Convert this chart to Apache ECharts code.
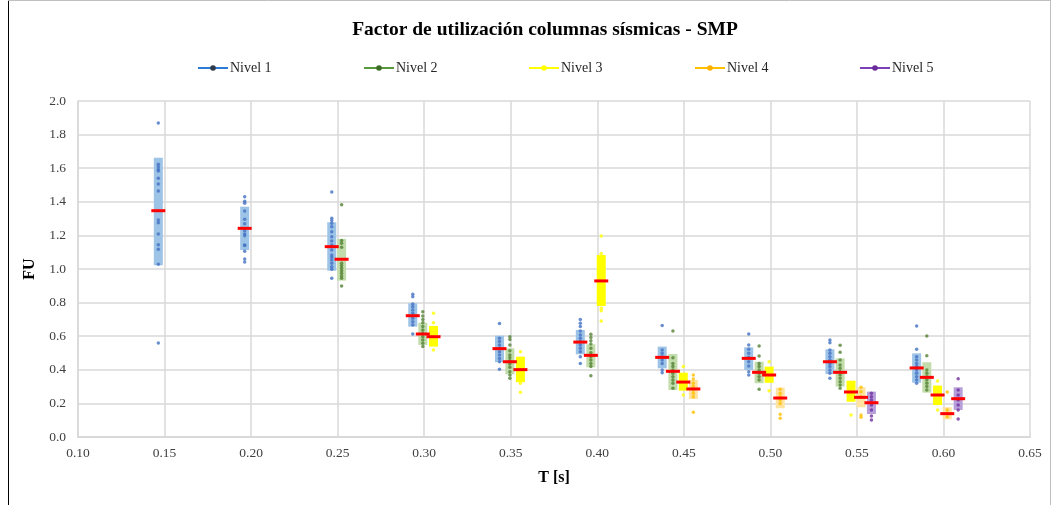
<!DOCTYPE html>
<html>
<head>
<meta charset="utf-8">
<script src="https://cdn.jsdelivr.net/npm/echarts@6/dist/echarts.min.js"></script>
<style>
  html, body { margin: 0; padding: 0; background: #fff; }
  #chart { width: 1064px; height: 505px; }
</style>
</head>
<body>
<div id="chart"></div>
<script>
// Periodo T [s] de cada modelo, por nivel; FU medio, rango (media ± desviación) y valores individuales
const xTicks = [0.10, 0.15, 0.20, 0.25, 0.30, 0.35, 0.40, 0.45, 0.50, 0.55, 0.60, 0.65];
const yTicks = [0.0, 0.2, 0.4, 0.6, 0.8, 1.0, 1.2, 1.4, 1.6, 1.8, 2.0];

const n1T    = [0.1464, 0.1963, 0.2466, 0.2934, 0.3435, 0.3902, 0.4375, 0.4875, 0.5344, 0.5845];
const n1Mean = [1.347, 1.242, 1.133, 0.722, 0.526, 0.565, 0.474, 0.468, 0.448, 0.411];
const n1Low  = [1.022, 1.113, 0.990, 0.657, 0.445, 0.492, 0.409, 0.399, 0.375, 0.323];
const n1High = [1.662, 1.371, 1.278, 0.796, 0.603, 0.637, 0.538, 0.534, 0.522, 0.498];
const n1Pts = [
  [1.869, 1.623, 1.609, 1.593, 1.583, 1.540, 1.506, 1.464, 1.292, 1.276, 1.208, 1.145, 1.117, 1.028, 0.560],
  [1.430, 1.403, 1.391, 1.345, 1.296, 1.270, 1.228, 1.208, 1.198, 1.143, 1.140, 1.105, 1.060, 1.042],
  [1.458, 1.302, 1.288, 1.272, 1.252, 1.222, 1.192, 1.167, 1.143, 1.113, 1.083, 1.070, 1.054, 1.034, 1.014, 0.998, 0.945],
  [0.849, 0.835, 0.792, 0.776, 0.756, 0.736, 0.707, 0.686, 0.667, 0.613],
  [0.675, 0.588, 0.568, 0.548, 0.528, 0.508, 0.488, 0.468, 0.448, 0.403],
  [0.700, 0.677, 0.657, 0.631, 0.607, 0.588, 0.568, 0.548, 0.528, 0.508, 0.478, 0.438],
  [0.663, 0.518, 0.498, 0.478, 0.458, 0.438, 0.399, 0.383],
  [0.613, 0.548, 0.522, 0.498, 0.474, 0.448, 0.423, 0.389, 0.369],
  [0.577, 0.561, 0.518, 0.498, 0.478, 0.458, 0.438, 0.419, 0.399, 0.379, 0.349],
  [0.661, 0.522, 0.478, 0.458, 0.438, 0.419, 0.399, 0.379, 0.359, 0.339, 0.320]
];

const n2T    = [0.2523, 0.2992, 0.3495, 0.3963, 0.4437, 0.4935, 0.5403, 0.5904];
const n2Mean = [1.058, 0.613, 0.448, 0.486, 0.391, 0.385, 0.385, 0.355];
const n2Low  = [0.931, 0.548, 0.373, 0.415, 0.280, 0.320, 0.300, 0.264];
const n2High = [1.179, 0.680, 0.528, 0.552, 0.494, 0.448, 0.468, 0.445];
const n2Pts = [
  [1.383, 1.169, 1.153, 1.129, 1.034, 1.020, 1.004, 0.990, 0.974, 0.958, 0.945, 0.899],
  [0.746, 0.720, 0.700, 0.680, 0.657, 0.637, 0.617, 0.597, 0.577, 0.558, 0.538],
  [0.597, 0.581, 0.548, 0.514, 0.488, 0.472, 0.454, 0.435, 0.415, 0.389, 0.369, 0.349],
  [0.611, 0.593, 0.573, 0.554, 0.528, 0.502, 0.478, 0.458, 0.438, 0.419, 0.365],
  [0.631, 0.472, 0.438, 0.419, 0.399, 0.379, 0.359, 0.339, 0.320, 0.290],
  [0.542, 0.482, 0.438, 0.419, 0.399, 0.379, 0.359, 0.339, 0.284],
  [0.546, 0.504, 0.458, 0.429, 0.409, 0.389, 0.369, 0.349, 0.329, 0.310, 0.290],
  [0.601, 0.484, 0.399, 0.379, 0.359, 0.339, 0.320, 0.300, 0.280]
];

const n3T    = [0.3054, 0.3556, 0.4023, 0.4497, 0.4993, 0.5466, 0.5966];
const n3Mean = [0.597, 0.401, 0.929, 0.327, 0.369, 0.268, 0.250];
const n3Low  = [0.538, 0.326, 0.780, 0.276, 0.323, 0.210, 0.190];
const n3High = [0.661, 0.478, 1.083, 0.383, 0.419, 0.335, 0.306];
const n3Pts = [
  [0.736, 0.680, 0.640, 0.600, 0.560, 0.518],
  [0.508, 0.450, 0.400, 0.350, 0.320, 0.266],
  [1.196, 1.093, 1.050, 1.000, 0.950, 0.900, 0.850, 0.820, 0.766, 0.752, 0.690],
  [0.419, 0.360, 0.330, 0.300, 0.250],
  [0.448, 0.400, 0.370, 0.340, 0.276],
  [0.320, 0.280, 0.250, 0.220, 0.131],
  [0.333, 0.290, 0.260, 0.230, 0.200, 0.161]
];

const n4T    = [0.4555, 0.5057, 0.5524, 0.6022];
const n4Mean = [0.286, 0.232, 0.236, 0.139];
const n4Low  = [0.226, 0.171, 0.177, 0.105];
const n4High = [0.339, 0.294, 0.296, 0.177];
const n4Pts = [
  [0.369, 0.345, 0.320, 0.300, 0.280, 0.260, 0.240, 0.147],
  [0.284, 0.260, 0.240, 0.220, 0.200, 0.135, 0.111],
  [0.296, 0.270, 0.240, 0.131, 0.117],
  [0.268, 0.160, 0.140, 0.120]
];

const n5T    = [0.5584, 0.6085];
const n5Mean = [0.204, 0.228];
const n5Low  = [0.137, 0.161];
const n5High = [0.270, 0.296];
const n5Pts = [
  [0.260, 0.240, 0.220, 0.190, 0.161, 0.125, 0.101],
  [0.347, 0.280, 0.250, 0.220, 0.190, 0.161, 0.107]
];

const levelNames = ['Nivel 1', 'Nivel 2', 'Nivel 3', 'Nivel 4', 'Nivel 5'];

// Estilos por nivel
const levels = [
  { name: levelNames[0], t: n1T, mean: n1Mean, low: n1Low, high: n1High, pts: n1Pts,
    dot: '#4472C4', box: '#9DC3E6', line: '#2E7BD6', mark: '#2F3A4A' },
  { name: levelNames[1], t: n2T, mean: n2Mean, low: n2Low, high: n2High, pts: n2Pts,
    dot: '#548235', box: '#C2DDAB', line: '#5B9A3C', mark: '#3E6B28' },
  { name: levelNames[2], t: n3T, mean: n3Mean, low: n3Low, high: n3High, pts: n3Pts,
    dot: '#FFFF00', box: '#FFFF00', line: '#FFFF00', mark: '#FFFF00' },
  { name: levelNames[3], t: n4T, mean: n4Mean, low: n4Low, high: n4High, pts: n4Pts,
    dot: '#FFC000', box: '#FFE3A0', line: '#FFC000', mark: '#FFB000' },
  { name: levelNames[4], t: n5T, mean: n5Mean, low: n5Low, high: n5High, pts: n5Pts,
    dot: '#7030A0', box: '#B7A0DA', line: '#7B3FB8', mark: '#6A2C9A' }
];

const serif = '"Liberation Serif", "DejaVu Serif", serif';
const BOX_W = 9, MEAN_W = 14, MEAN_H = 3;

function rangeBox(color) {
  return function (params, api) {
    const top = api.coord([api.value(0), api.value(2)]);
    const bot = api.coord([api.value(0), api.value(1)]);
    return {
      type: 'rect',
      shape: { x: top[0] - BOX_W / 2, y: top[1], width: BOX_W, height: bot[1] - top[1] },
      style: { fill: color }
    };
  };
}

function meanBar(params, api) {
  const p = api.coord([api.value(0), api.value(1)]);
  return {
    type: 'rect',
    shape: { x: p[0] - MEAN_W / 2, y: p[1] - MEAN_H / 2, width: MEAN_W, height: MEAN_H },
    style: { fill: '#FF0000' }
  };
}

const series = [];
levels.forEach(function (lv) {
  series.push({
    name: lv.name + ' rango',
    type: 'custom',
    renderItem: rangeBox(lv.box),
    data: lv.t.map(function (t, i) { return [t, lv.low[i], lv.high[i]]; }),
    encode: { x: 0, y: [1, 2] },
    z: 1,
    silent: true
  });
});
levels.forEach(function (lv) {
  const d = [];
  lv.t.forEach(function (t, i) { lv.pts[i].forEach(function (v) { d.push([t, v]); }); });
  series.push({
    name: lv.name + ' valores',
    type: 'scatter',
    data: d,
    symbol: 'circle',
    symbolSize: 3.5,
    itemStyle: { color: lv.dot },
    z: 2,
    silent: true
  });
});
levels.forEach(function (lv) {
  series.push({
    name: lv.name + ' media',
    type: 'custom',
    renderItem: meanBar,
    data: lv.t.map(function (t, i) { return [t, lv.mean[i]]; }),
    encode: { x: 0, y: 1 },
    z: 3,
    silent: true
  });
});
// Series de leyenda (línea con marcador)
levels.forEach(function (lv) {
  series.push({
    name: lv.name,
    type: 'line',
    data: [],
    symbol: 'circle',
    symbolSize: 6,
    lineStyle: { color: lv.line, width: 3 },
    itemStyle: { color: lv.mark }
  });
});

const legendLeft = [197, 363, 528, 694, 859];
const legends = levels.map(function (lv, i) {
  return {
    data: [lv.name],
    left: legendLeft[i],
    top: 61,
    padding: 0,
    itemWidth: 30,
    itemHeight: 7,
    itemGap: 0,
    textStyle: { fontFamily: serif, fontSize: 14, color: '#262626', padding: [0, 0, 0, -3] },
    selectedMode: false
  };
});

const option = {
  animation: false,
  backgroundColor: '#ffffff',
  title: {
    text: 'Factor de utilización columnas sísmicas - SMP',
    left: 540,
    textAlign: 'center',
    top: 15,
    textStyle: { fontFamily: serif, fontSize: 19.5, fontWeight: 'bold', color: '#000' }
  },
  legend: legends,
  grid: { left: 78, right: 34, top: 101, bottom: 68 },
  xAxis: {
    type: 'value',
    min: xTicks[0],
    max: xTicks[xTicks.length - 1],
    interval: 0.05,
    name: 'T [s]',
    nameLocation: 'middle',
    nameGap: 33,
    nameTextStyle: { fontFamily: serif, fontSize: 16, fontWeight: 'bold', color: '#000' },
    axisLine: { show: true, lineStyle: { color: '#D9D9D9', width: 2 } },
    axisTick: { show: false },
    axisLabel: {
      fontFamily: serif, fontSize: 13.5, color: '#404040', margin: 9,
      formatter: function (v) { return v.toFixed(2); }
    },
    splitLine: { show: true, lineStyle: { color: '#D9D9D9', width: 1.5 } }
  },
  yAxis: {
    type: 'value',
    min: yTicks[0],
    max: yTicks[yTicks.length - 1],
    interval: 0.2,
    name: 'FU',
    nameLocation: 'middle',
    nameGap: 38,
    nameTextStyle: { fontFamily: serif, fontSize: 16, fontWeight: 'bold', color: '#000' },
    axisLine: { show: true, lineStyle: { color: '#D9D9D9', width: 1.5 } },
    axisTick: { show: false },
    axisLabel: {
      fontFamily: serif, fontSize: 13.5, color: '#404040', margin: 12,
      formatter: function (v) { return v.toFixed(1); }
    },
    splitLine: { show: true, lineStyle: { color: '#D9D9D9', width: 1.5 } }
  },
  graphic: [
    { type: 'line', shape: { x1: 8.5, y1: 0, x2: 8.5, y2: 505 }, style: { stroke: '#000', lineWidth: 1 }, z: 10 },
    { type: 'line', shape: { x1: 8, y1: 0.5, x2: 1050, y2: 0.5 }, style: { stroke: '#BFBFBF', lineWidth: 1 }, z: 10 },
    { type: 'line', shape: { x1: 1050.5, y1: 0, x2: 1050.5, y2: 505 }, style: { stroke: '#BFBFBF', lineWidth: 1 }, z: 10 }
  ],
  series: series
};

const chart = echarts.init(document.getElementById('chart'), null, { renderer: 'canvas' });
chart.setOption(option);
</script>
</body>
</html>
